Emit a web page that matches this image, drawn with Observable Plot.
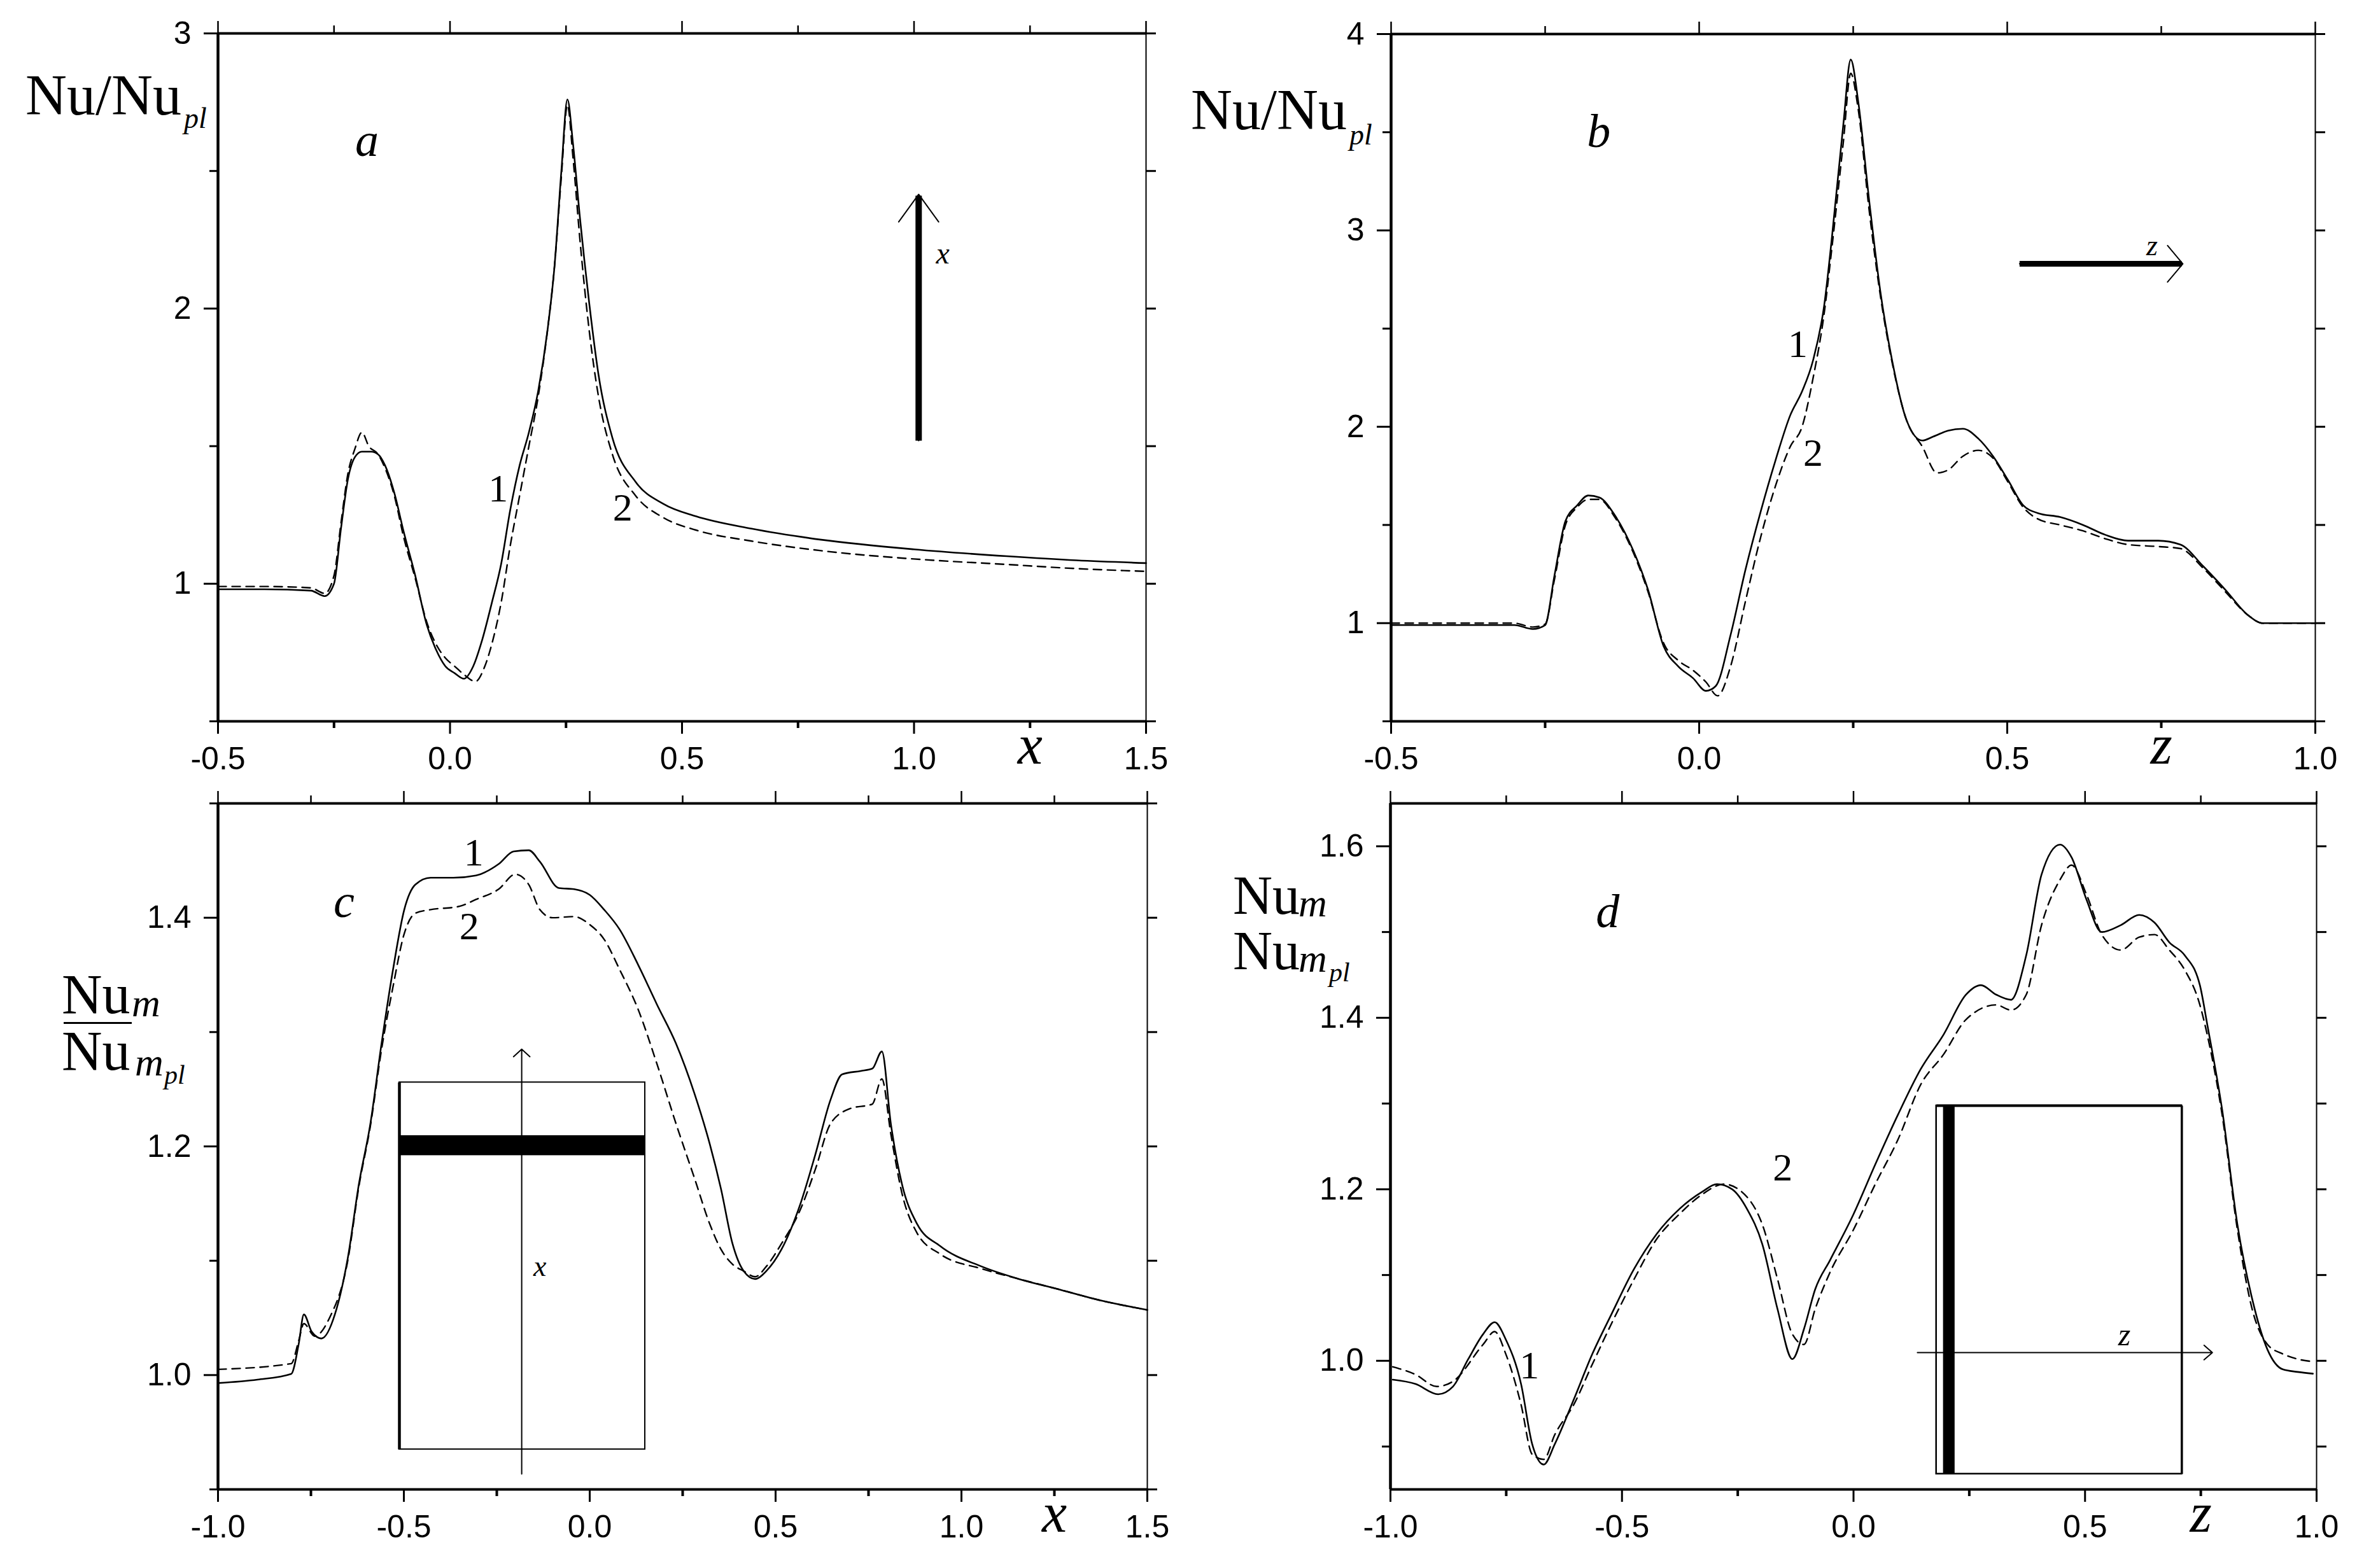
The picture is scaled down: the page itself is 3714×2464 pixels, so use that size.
<!DOCTYPE html>
<html><head><meta charset="utf-8">
<script src="https://cdn.jsdelivr.net/npm/d3@7"></script>
<script src="https://cdn.jsdelivr.net/npm/@observablehq/plot@0.6"></script>
<style>
html,body{margin:0;padding:0;background:#fff;}
#page{position:relative;width:3714px;height:2464px;overflow:hidden;background:#fff;}
.panel{position:absolute;}
.lbl{position:absolute;font-family:"Liberation Serif","Times New Roman",serif;color:#000;white-space:nowrap;line-height:1;}
.frac{position:absolute;background:#000;}
</style></head><body><div id="page"></div>
<script>
// ---------- Panel a : Nu/Nu_pl vs x ----------
const aX1 = [-0.5,-0.4,-0.3,-0.27,-0.25,-0.235,-0.22,-0.205,-0.19,-0.17,-0.155,-0.14,-0.12,-0.1,-0.075,-0.05,-0.03,-0.01,0.01,0.03,0.05,0.07,0.09,0.11,0.13,0.15,0.17,0.19,0.21,0.225,0.24,0.253,0.265,0.28,0.3,0.32,0.35,0.4,0.46,0.53,0.65,0.8,1.0,1.2,1.35,1.5];
const aY1 = [0.98,0.98,0.975,0.955,1.0,1.2,1.38,1.46,1.48,1.48,1.47,1.43,1.33,1.19,1.03,0.85,0.76,0.70,0.675,0.655,0.70,0.80,0.93,1.07,1.27,1.43,1.55,1.70,1.92,2.15,2.50,2.76,2.60,2.33,2.02,1.76,1.53,1.37,1.29,1.245,1.20,1.16,1.125,1.10,1.085,1.075];
const aX2 = [-0.5,-0.4,-0.3,-0.27,-0.25,-0.235,-0.22,-0.205,-0.19,-0.175,-0.155,-0.14,-0.12,-0.1,-0.075,-0.05,-0.03,-0.01,0.01,0.03,0.055,0.075,0.09,0.11,0.13,0.15,0.17,0.19,0.21,0.225,0.24,0.253,0.265,0.28,0.3,0.32,0.35,0.4,0.46,0.53,0.65,0.8,1.0,1.2,1.35,1.5];
const aY2 = [0.99,0.99,0.985,0.965,1.03,1.22,1.40,1.49,1.55,1.50,1.47,1.42,1.32,1.17,1.02,0.86,0.78,0.73,0.70,0.67,0.645,0.70,0.78,0.93,1.14,1.32,1.50,1.68,1.92,2.15,2.48,2.74,2.55,2.25,1.92,1.68,1.47,1.32,1.24,1.195,1.155,1.12,1.09,1.07,1.055,1.045];

// ---------- Panel b : Nu/Nu_pl vs z ----------
const bX1 = [-0.5,-0.3,-0.27,-0.25,-0.235,-0.217,-0.198,-0.18,-0.162,-0.137,-0.107,-0.083,-0.058,-0.034,-0.01,0.011,0.027,0.051,0.075,0.1,0.124,0.148,0.167,0.185,0.203,0.215,0.234,0.246,0.258,0.276,0.294,0.313,0.337,0.362,0.38,0.404,0.428,0.453,0.477,0.501,0.526,0.55,0.586,0.623,0.659,0.696,0.745,0.781,0.818,0.854,0.891,0.915,0.95,1.0];
const bY1 = [0.99,0.99,0.97,0.99,1.24,1.52,1.60,1.65,1.64,1.55,1.37,1.17,0.885,0.78,0.72,0.655,0.68,0.94,1.27,1.57,1.83,2.06,2.18,2.34,2.62,2.95,3.54,3.87,3.66,3.15,2.69,2.34,2.03,1.93,1.95,1.98,1.99,1.94,1.85,1.73,1.60,1.56,1.54,1.50,1.45,1.42,1.42,1.40,1.29,1.17,1.04,1.0,1.0,1.0];
const bX2 = [-0.5,-0.3,-0.27,-0.25,-0.235,-0.217,-0.198,-0.18,-0.162,-0.137,-0.107,-0.083,-0.058,-0.034,-0.01,0.011,0.03,0.051,0.075,0.1,0.124,0.148,0.167,0.185,0.203,0.215,0.234,0.246,0.258,0.276,0.294,0.313,0.337,0.362,0.386,0.404,0.428,0.453,0.477,0.501,0.526,0.55,0.586,0.623,0.659,0.696,0.745,0.781,0.818,0.854,0.891,0.915,0.95,1.0];
const bY2 = [1.0,1.0,0.98,0.995,1.22,1.50,1.59,1.63,1.63,1.54,1.36,1.16,0.90,0.81,0.76,0.70,0.63,0.78,1.11,1.44,1.70,1.90,2.0,2.25,2.58,2.90,3.45,3.80,3.62,3.10,2.67,2.33,2.03,1.90,1.765,1.78,1.85,1.88,1.84,1.72,1.59,1.53,1.50,1.47,1.43,1.40,1.39,1.38,1.28,1.16,1.04,1.0,1.0,1.0];

// ---------- Panel c : Nu_m/Nu_m_pl vs x ----------
const cX1 = [-1.0,-0.894,-0.803,-0.783,-0.769,-0.748,-0.722,-0.681,-0.651,-0.621,-0.59,-0.56,-0.529,-0.499,-0.469,-0.428,-0.367,-0.306,-0.245,-0.205,-0.164,-0.134,-0.083,-0.042,0.0,0.039,0.08,0.13,0.181,0.232,0.282,0.323,0.353,0.384,0.414,0.445,0.475,0.516,0.567,0.607,0.648,0.679,0.729,0.76,0.786,0.81,0.84,0.881,0.942,1.054,1.155,1.256,1.378,1.5];
const cY1 = [0.993,0.996,1.001,1.027,1.053,1.038,1.032,1.058,1.102,1.167,1.22,1.29,1.355,1.407,1.429,1.435,1.435,1.437,1.447,1.458,1.459,1.449,1.426,1.425,1.42,1.407,1.39,1.359,1.324,1.29,1.246,1.202,1.163,1.115,1.091,1.084,1.091,1.11,1.15,1.193,1.241,1.263,1.266,1.268,1.283,1.22,1.167,1.132,1.113,1.095,1.084,1.0755,1.065,1.057];
const cX2 = [-1.0,-0.803,-0.783,-0.769,-0.74,-0.7,-0.651,-0.621,-0.59,-0.56,-0.529,-0.5,-0.469,-0.43,-0.35,-0.306,-0.245,-0.2,-0.164,-0.134,-0.1,-0.042,0.0,0.039,0.08,0.13,0.181,0.232,0.282,0.323,0.353,0.384,0.414,0.445,0.475,0.516,0.567,0.607,0.648,0.7,0.76,0.786,0.81,0.84,0.881,0.942,1.054,1.155,1.256,1.378,1.5];
const cY2 = [1.005,1.01,1.03,1.045,1.034,1.05,1.1,1.165,1.218,1.285,1.34,1.385,1.404,1.407,1.41,1.416,1.425,1.438,1.429,1.407,1.40,1.401,1.394,1.381,1.355,1.32,1.272,1.22,1.172,1.132,1.11,1.097,1.091,1.086,1.095,1.115,1.145,1.18,1.22,1.233,1.237,1.259,1.211,1.159,1.124,1.106,1.093,1.084,1.0755,1.065,1.057];

// ---------- Panel d : Nu_m/Nu_m_pl vs z ----------
const dX1 = [-0.995,-0.946,-0.897,-0.865,-0.832,-0.8,-0.775,-0.751,-0.718,-0.694,-0.669,-0.645,-0.604,-0.564,-0.523,-0.474,-0.425,-0.376,-0.327,-0.295,-0.262,-0.23,-0.197,-0.164,-0.132,-0.107,-0.083,-0.05,0.0,0.047,0.096,0.145,0.194,0.243,0.275,0.308,0.34,0.373,0.406,0.446,0.471,0.503,0.536,0.577,0.617,0.65,0.682,0.715,0.748,0.764,0.796,0.829,0.861,0.894,0.927,0.959,0.992];
const dY1 = [0.978,0.973,0.961,0.97,1.002,1.031,1.045,1.025,0.973,0.903,0.879,0.903,0.955,1.008,1.054,1.107,1.148,1.177,1.197,1.206,1.2,1.177,1.136,1.06,1.002,1.037,1.083,1.118,1.171,1.229,1.287,1.34,1.38,1.427,1.438,1.427,1.421,1.473,1.567,1.602,1.587,1.538,1.5,1.508,1.52,1.511,1.488,1.473,1.438,1.392,1.293,1.159,1.072,1.013,0.99,0.987,0.985];
const dX2 = [-0.995,-0.946,-0.9,-0.865,-0.8,-0.775,-0.751,-0.718,-0.694,-0.669,-0.645,-0.604,-0.564,-0.523,-0.474,-0.425,-0.376,-0.327,-0.28,-0.23,-0.197,-0.164,-0.132,-0.107,-0.083,-0.05,0.0,0.047,0.096,0.145,0.194,0.243,0.308,0.34,0.373,0.406,0.446,0.471,0.503,0.536,0.577,0.617,0.65,0.682,0.715,0.748,0.764,0.796,0.829,0.861,0.894,0.927,0.959,0.992];
const dY2 = [0.993,0.984,0.97,0.976,1.019,1.034,1.008,0.949,0.891,0.885,0.914,0.949,0.996,1.043,1.095,1.142,1.171,1.194,1.206,1.191,1.159,1.095,1.031,1.019,1.06,1.104,1.153,1.206,1.258,1.322,1.357,1.398,1.415,1.409,1.427,1.508,1.561,1.578,1.544,1.497,1.479,1.494,1.497,1.479,1.456,1.415,1.38,1.287,1.153,1.06,1.019,1.008,1.002,0.999];

// ---------- Tick labels ----------
const aXTicks = [-0.5,0,0.5,1.0,1.5], aXMinor = [-0.25,0.25,0.75,1.25];
const aYTicks = [1,2,3], aYMinor = [0.5,1.5,2.5];
const bXTicks = [-0.5,0,0.5,1.0], bXMinor = [-0.25,0.25,0.75];
const bYTicks = [1,2,3,4], bYMinor = [0.5,1.5,2.5,3.5];
const cXTicks = [-1.0,-0.5,0,0.5,1.0,1.5], cXMinor = [-0.75,-0.25,0.25,0.75,1.25];
const cYTicks = [1.0,1.2,1.4], cYMinor = [0.9,1.1,1.3,1.5];
const dXTicks = [-1.0,-0.5,0,0.5,1.0], dXMinor = [-0.75,-0.25,0.25,0.75];
const dYTicks = [1.0,1.2,1.4,1.6], dYMinor = [0.9,1.1,1.3,1.5];

const zip = (xs, ys) => xs.map((x, i) => ({x, y: ys[i]}));
const SERIF = "Liberation Serif, Times New Roman, serif";

function framedAxes(xd, yd, xT, xM, yT, yM, xFmt, yFmt) {
  return [
    Plot.ruleY([yd[0]], {strokeWidth: 4}),
    Plot.ruleY([yd[1]], {strokeWidth: 4}),
    Plot.ruleX([xd[0]], {strokeWidth: 4.5}),
    Plot.ruleX([xd[1]], {strokeWidth: 2}),
    Plot.axisX({anchor: "bottom", ticks: xT, tickSize: 20, tickPadding: 20, tickFormat: xFmt, fontSize: 50, strokeWidth: 3, label: null}),
    Plot.axisX({anchor: "bottom", ticks: xM, tickSize: 11, fill: "none", strokeWidth: 4}),
    Plot.axisX({anchor: "top", ticks: xT, tickSize: 20, fill: "none", strokeWidth: 2.5}),
    Plot.axisX({anchor: "top", ticks: xM, tickSize: 13, fill: "none", strokeWidth: 2.5}),
    Plot.axisY({anchor: "left", ticks: yT, tickSize: 22, tickPadding: 20, tickFormat: yFmt, fontSize: 50, strokeWidth: 3, label: null}),
    Plot.axisY({anchor: "left", ticks: yM, tickSize: 13, fill: "none", strokeWidth: 3}),
    Plot.axisY({anchor: "right", ticks: yT.concat(yM), tickSize: 15, fill: "none", strokeWidth: 3})
  ];
}

function curves(x1, y1, x2, y2) {
  return [
    Plot.line(zip(x1, y1), {x: "x", y: "y", curve: "monotone-x", strokeWidth: 2.6}),
    Plot.line(zip(x2, y2), {x: "x", y: "y", curve: "monotone-x", strokeWidth: 2.4, strokeDasharray: "13,9"})
  ];
}

function texts(rows, size, style) {
  return Plot.text(rows, {x: "x", y: "y", text: "t", fontSize: size, fontStyle: style, fontFamily: SERIF});
}

function axisName(xv, name) {
  return Plot.text([{x: xv}], {x: "x", frameAnchor: "bottom", dy: 66, text: () => name, fontSize: 88, fontStyle: "italic", fontFamily: SERIF});
}

function place(svg, left, top) {
  const d = document.createElement("div");
  d.className = "panel";
  d.style.left = left + "px";
  d.style.top = top + "px";
  d.appendChild(svg);
  document.getElementById("page").appendChild(d);
}

const f1 = d => d.toFixed(1);
const f0 = d => String(d);
const baseStyle = {fontFamily: "Liberation Sans, Arial, sans-serif", color: "black", background: "white", overflow: "visible"};

// Panel a
place(Plot.plot({
  width: 1857, height: 1232, marginLeft: 342, marginRight: 57, marginTop: 52, marginBottom: 99,
  x: {domain: [-0.5, 1.5], axis: null}, y: {domain: [0.5, 3], axis: null}, style: baseStyle,
  marks: [
    ...framedAxes([-0.5, 1.5], [0.5, 3], aXTicks, aXMinor, aYTicks, aYMinor, f1, f0),
    ...curves(aX1, aY1, aX2, aY2),
    Plot.arrow([{x1: 1.01, y1: 1.52, x2: 1.01, y2: 2.415}], {x1: "x1", y1: "y1", x2: "x2", y2: "y2", strokeWidth: 2, headLength: 40, headAngle: 72}),
    Plot.link([{x1: 1.01, y1: 1.52, x2: 1.01, y2: 2.41}], {x1: "x1", y1: "y1", x2: "x2", y2: "y2", strokeWidth: 10}),
    texts([{x: 1.062, y: 2.2, t: "x"}], 48, "italic"),
    texts([{x: -0.179, y: 2.61, t: "a"}], 74, "italic"),
    texts([{x: 0.104, y: 1.344, t: "1"}, {x: 0.372, y: 1.275, t: "2"}], 62, "normal"),
    axisName(1.25, "x")
  ]
}), 0, 0);

// Panel b
place(Plot.plot({
  width: 1857, height: 1232, marginLeft: 328, marginRight: 77, marginTop: 53, marginBottom: 99,
  x: {domain: [-0.5, 1.0], axis: null}, y: {domain: [0.5, 4], axis: null}, style: baseStyle,
  marks: [
    ...framedAxes([-0.5, 1.0], [0.5, 4], bXTicks, bXMinor, bYTicks, bYMinor, f1, f0),
    ...curves(bX1, bY1, bX2, bY2),
    Plot.arrow([{x1: 0.52, y1: 2.83, x2: 0.785, y2: 2.83}], {x1: "x1", y1: "y1", x2: "x2", y2: "y2", strokeWidth: 2, headLength: 28, headAngle: 100}),
    Plot.link([{x1: 0.52, y1: 2.83, x2: 0.783, y2: 2.83}], {x1: "x1", y1: "y1", x2: "x2", y2: "y2", strokeWidth: 9}),
    texts([{x: 0.735, y: 2.92, t: "z"}], 46, "italic"),
    texts([{x: -0.163, y: 3.5, t: "b"}], 74, "italic"),
    texts([{x: 0.16, y: 2.42, t: "1"}, {x: 0.185, y: 1.866, t: "2"}], 62, "normal"),
    axisName(0.75, "z")
  ]
}), 1857, 0);

// Panel c
place(Plot.plot({
  width: 1857, height: 1232, marginLeft: 342, marginRight: 55, marginTop: 30, marginBottom: 124,
  x: {domain: [-1.0, 1.5], axis: null}, y: {domain: [0.9, 1.5], axis: null}, style: baseStyle,
  marks: [
    ...framedAxes([-1.0, 1.5], [0.9, 1.5], cXTicks, cXMinor, cYTicks, cYMinor, f1, f1),
    Plot.rect([{x1: -0.512, x2: 0.149, y1: 0.935, y2: 1.256}], {x1: "x1", x2: "x2", y1: "y1", y2: "y2", fill: "none", stroke: "black", strokeWidth: 2}),
    Plot.link([{x1: -0.512, y1: 0.935, x2: -0.512, y2: 1.256}], {x1: "x1", y1: "y1", x2: "x2", y2: "y2", strokeWidth: 4.5}),
    Plot.rect([{x1: -0.512, x2: 0.149, y1: 1.192, y2: 1.2095}], {x1: "x1", x2: "x2", y1: "y1", y2: "y2", fill: "black"}),
    Plot.arrow([{x1: -0.183, y1: 0.9135, x2: -0.183, y2: 1.285}], {x1: "x1", y1: "y1", x2: "x2", y2: "y2", strokeWidth: 2, headLength: 13, headAngle: 95}),
    texts([{x: -0.134, y: 1.095, t: "x"}], 46, "italic"),
    ...curves(cX1, cY1, cX2, cY2),
    texts([{x: -0.661, y: 1.414, t: "c"}], 74, "italic"),
    texts([{x: -0.312, y: 1.457, t: "1"}, {x: -0.324, y: 1.392, t: "2"}], 62, "normal"),
    axisName(1.25, "x")
  ]
}), 0, 1232);

// Panel d
place(Plot.plot({
  width: 1857, height: 1232, marginLeft: 327, marginRight: 75, marginTop: 30, marginBottom: 124,
  x: {domain: [-1.0, 1.0], axis: null}, y: {domain: [0.85, 1.65], axis: null}, style: baseStyle,
  marks: [
    ...framedAxes([-1.0, 1.0], [0.85, 1.65], dXTicks, dXMinor, dYTicks, dYMinor, f1, f1),
    Plot.rect([{x1: 0.179, x2: 0.709, y1: 0.868, y2: 1.2975}], {x1: "x1", x2: "x2", y1: "y1", y2: "y2", fill: "none", stroke: "black", strokeWidth: 2.5}),
    Plot.link([{x1: 0.179, y1: 1.2975, x2: 0.709, y2: 1.2975}], {x1: "x1", y1: "y1", x2: "x2", y2: "y2", strokeWidth: 4}),
    Plot.link([{x1: 0.709, y1: 0.868, x2: 0.709, y2: 1.2975}], {x1: "x1", y1: "y1", x2: "x2", y2: "y2", strokeWidth: 3.5}),
    Plot.rect([{x1: 0.194, x2: 0.219, y1: 0.868, y2: 1.2975}], {x1: "x1", x2: "x2", y1: "y1", y2: "y2", fill: "black"}),
    Plot.arrow([{x1: 0.138, y1: 1.0096, x2: 0.775, y2: 1.0096}], {x1: "x1", y1: "y1", x2: "x2", y2: "y2", strokeWidth: 2, headLength: 13, headAngle: 82}),
    texts([{x: 0.585, y: 1.03, t: "z"}], 50, "italic"),
    ...curves(dX1, dY1, dX2, dY2),
    texts([{x: -0.531, y: 1.523, t: "d"}], 74, "italic"),
    texts([{x: -0.70, y: 0.994, t: "1"}, {x: -0.153, y: 1.225, t: "2"}], 62, "normal"),
    axisName(0.75, "z")
  ]
}), 1857, 1232);

// ---------- Y-axis titles (HTML text) ----------
function addText(txt, x, baseline, size, italic) {
  const s = document.createElement("div");
  s.className = "lbl";
  s.textContent = txt;
  s.style.fontSize = size + "px";
  s.style.left = x + "px";
  s.style.top = (baseline - 0.8375 * size) + "px";
  if (italic) s.style.fontStyle = "italic";
  document.getElementById("page").appendChild(s);
}
function addLine(x, y, w, h) {
  const d = document.createElement("div");
  d.className = "frac";
  d.style.left = x + "px"; d.style.top = y + "px";
  d.style.width = w + "px"; d.style.height = h + "px";
  document.getElementById("page").appendChild(d);
}
// a
addText("Nu/Nu", 40, 180, 90, false);
addText("pl", 289, 202, 46, true);
// b
addText("Nu/Nu", 1871, 203, 90, false);
addText("pl", 2120, 228, 46, true);
// c
addText("Nu", 97, 1593, 88, false);
addText("m", 207, 1597, 62, true);
addLine(100, 1606, 107, 3);
addText("Nu", 97, 1682, 88, false);
addText("m", 212, 1690, 62, true);
addText("pl", 258, 1703, 42, true);
// d
addText("Nu", 1937, 1436, 86, false);
addText("m", 2040, 1440, 62, true);
addText("Nu", 1937, 1523, 86, false);
addText("m", 2040, 1527, 62, true);
addText("pl", 2088, 1542, 42, true);
</script></body></html>
